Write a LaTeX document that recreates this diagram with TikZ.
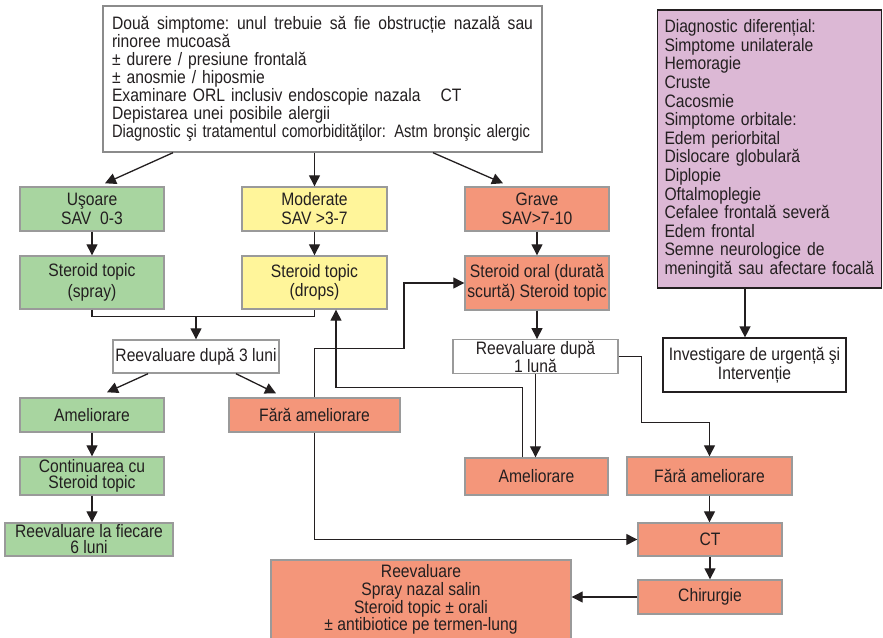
\documentclass[tikz,border=0pt]{standalone}
\usepackage{graphicx}
\usepackage{fontspec}
\setmainfont{Liberation Sans}[FakeStretch=0.87]
\usetikzlibrary{arrows.meta,calc}
\definecolor{txt}{HTML}{231F20}
\definecolor{gfill}{HTML}{A8D5A0}
\definecolor{yfill}{HTML}{FFF59A}
\definecolor{ofill}{HTML}{F4967A}
\definecolor{pfill}{HTML}{DCB8D5}
\definecolor{bord}{HTML}{9A9A9A}
\begin{document}
\begin{tikzpicture}[x=1pt,y=-1pt,
  every node/.style={font=\fontsize{18}{17}\selectfont, text=txt},
  box/.style={draw=bord, line width=1.4pt, inner sep=1pt, align=center},
  gbox/.style={box, fill=gfill},
  ybox/.style={box, fill=yfill},
  obox/.style={box, fill=ofill},
  wbox/.style={box, fill=white},
  kbox/.style={draw=txt, line width=1.2pt, inner sep=1pt, align=center, fill=white},
  arr/.style={draw=txt, line width=1.3pt, -{Triangle[length=11pt,width=11pt]}},
  ln/.style={draw=txt, line width=1.3pt}]
\useasboundingbox (0,0) rectangle (883,637);

% top box
\node[wbox, draw=bord!90!black, minimum width=439, minimum height=146, text width=421, inner xsep=9, align=left,
  font=\fontsize{18}{18}\selectfont] (top) at (322.5,79)
  {\makebox[421pt]{Două\hfill simptome:\hfill unul\hfill trebuie\hfill să\hfill fie\hfill obstrucție\hfill nazală\hfill sau}\\
   rinoree mucoasă\\
   ± durere / presiune frontală\\
   ± anosmie / hiposmie\\
   Examinare ORL inclusiv endoscopie nazala\hspace{20pt}CT\\
   Depistarea unei posibile alergii\\
   \resizebox{418pt}{\height}{Diagnostic şi tratamentul comorbidităţilor: Astm bronşic alergic}};

% purple box
\node[kbox, fill=pfill, minimum width=221, minimum height=278, text width=210, inner xsep=7, align=left,
  font=\fontsize{18}{18.6}\selectfont] (purple) at (769.5,149)
  {Diagnostic diferențial:\\ Simptome unilaterale\\ Hemoragie\\ Cruste\\ Cacosmie\\
   Simptome orbitale:\\ Edem periorbital\\ Dislocare globulară\\ Diplopie\\ Oftalmoplegie\\
   Cefalee frontală severă\\ Edem frontal\\ Semne neurologice de\\ meningită sau afectare focală};
\node[kbox, minimum width=183, minimum height=54, font=\fontsize{18}{19}\selectfont] (inv) at (754.5,365) {Investigare de urgență şi\\ Intervenție};

% severity row
\node[gbox, minimum width=144, minimum height=44, font=\fontsize{18}{19}\selectfont] (usoare) at (92,209) {Uşoare\\ SAV\ \ 0-3};
\node[ybox, minimum width=145, minimum height=44, font=\fontsize{18}{19}\selectfont] (moderate) at (314.5,209) {Moderate\\ SAV >3-7};
\node[obox, minimum width=144, minimum height=44, font=\fontsize{18}{19}\selectfont] (grave) at (537,209) {Grave\\ SAV>7-10};

% treatment row
\node[gbox, minimum width=144, minimum height=53, font=\fontsize{18}{21}\selectfont] (spray) at (92,282.5) {Steroid topic\\ (spray)};
\node[ybox, minimum width=145, minimum height=53, font=\fontsize{18}{19}\selectfont] (drops) at (314.5,282.5) {Steroid topic\\ (drops)};
\node[obox, minimum width=144, minimum height=54, font=\fontsize{18}{20}\selectfont] (oral) at (537,283) {Steroid oral (durată\\ scurtă) Steroid topic};

% re-evaluations
\node[wbox, minimum width=166, minimum height=33] (reev3) at (196,356.5) {Reevaluare după 3 luni};
\node[wbox, minimum width=165, minimum height=33, font=\fontsize{18}{15}\selectfont] (reev1) at (535.5,356.5) {Reevaluare după\\ 1 lună};

% outcomes
\node[gbox, minimum width=144, minimum height=34] (amelG) at (92,415) {Ameliorare};
\node[obox, minimum width=171, minimum height=34] (faraL) at (314.5,415) {\raisebox{-5pt}{Fără ameliorare}};
\node[gbox, minimum width=144, minimum height=38, font=\fontsize{18}{16}\selectfont] (cont) at (92,476) {Continuarea cu\\ Steroid topic};
\node[gbox, minimum width=168, minimum height=33, font=\fontsize{18}{16}\selectfont] (reev6) at (89,539.5) {Reevaluare la fiecare\\ 6 luni};
\node[obox, minimum width=143, minimum height=37] (amelR) at (536.5,476.5) {Ameliorare};
\node[obox, minimum width=165, minimum height=38] (faraR) at (709.5,476) {Fără ameliorare};
\node[obox, minimum width=144, minimum height=33] (ct) at (710,539.5) {CT};
\node[obox, minimum width=144, minimum height=34] (chir) at (710,597) {Chirurgie};
\node[obox, minimum width=300, minimum height=80, font=\fontsize{18}{15.5}\selectfont] (big) at (421,600)
  {\raisebox{3pt}{\begin{tabular}{@{}c@{}}Reevaluare\\ Spray nazal salin\\ Steroid topic ± orali\\ ± antibiotice pe termen-lung\end{tabular}}};

% connectors
\draw[arr] ($(top.south)+(-149.5,0)$) -- ($(usoare.north)+(13,-3)$);
\draw[arr] (moderate.north |- top.south) -- (moderate.north);
\draw[arr] ($(top.south)+(110.5,0)$) -- ($(grave.north)+(-34,-3)$);
\draw[arr] (usoare.south) -- (spray.north);
\draw[arr] (moderate.south) -- (drops.north);
\draw[arr] (grave.south) -- (oral.north);
\draw[arr] (oral.south) -- (reev1.north -| oral.south);
\coordinate (j) at ($(spray.south)+(0,7)$);
\draw[ln] (spray.south) -- (j) -| (drops.south);
\draw[arr] (j -| reev3.north) -- (reev3.north);
\draw[arr] ($(reev3.south)+(-48,0)$) -- ($(amelG.north)+(15,-5)$);
\draw[arr] ($(reev3.south)+(40,0)$) -- ($(faraL.north)+(-38.5,-4)$);
\draw[arr] (amelG.south) -- (cont.north);
\draw[arr] (cont.south) -- (cont.south |- reev6.north);
\draw[arr] (faraL.north) |- ($(faraL.north)+(89.5,-49)$) |- (oral.west);
\draw[arr] ($(amelR.north)+(-14,0)$) |- ($(drops.south)+(21.5,78)$) -- ($(drops.south)+(21.5,0)$);
\draw[arr] (reev1.south) -- (reev1.south |- amelR.north);
\draw[arr] (reev1.east) -- ++(23,0) |- ($(faraR.north)+(0,-34)$) -- (faraR.north);
\draw[arr] (faraR.south) -- (ct.north -| faraR.south);
\draw[arr] (ct.south) -- (chir.north);
\draw[arr] (faraL.south) |- (ct.west);
\draw[arr] (chir.west) -- (big.east |- chir.west);
\draw[arr] ($(purple.south)+(-24.5,0)$) -- ($(inv.north)+(-9.5,0)$);
\end{tikzpicture}
\end{document}
